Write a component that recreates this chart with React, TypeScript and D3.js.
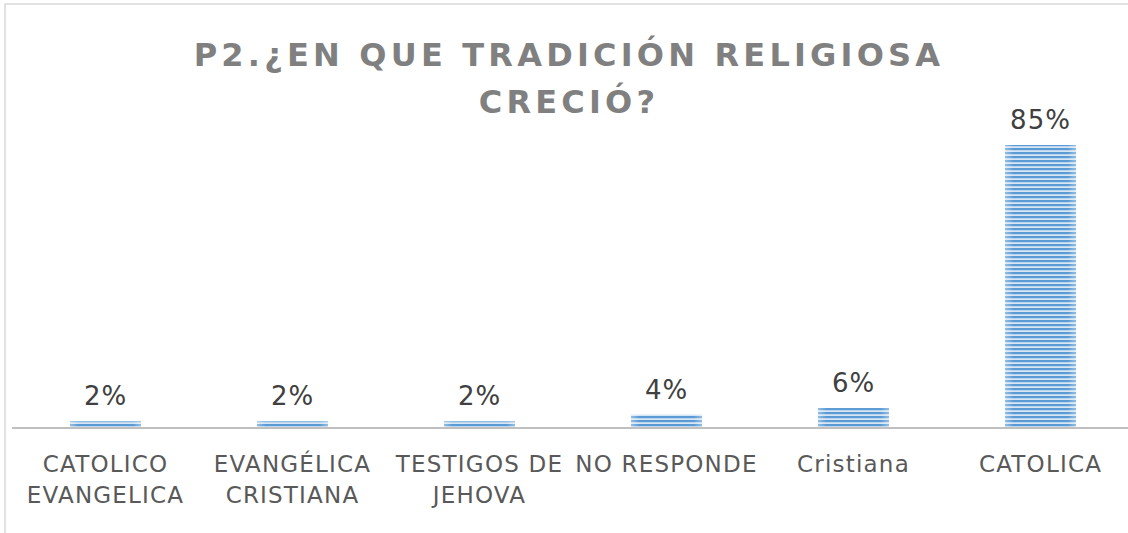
import React from "react";
import * as d3 from "d3";

const categories: string[][] = [
  ["CATOLICO", "EVANGELICA"],
  ["EVANGÉLICA", "CRISTIANA"],
  ["TESTIGOS DE", "JEHOVA"],
  ["NO RESPONDE"],
  ["Cristiana"],
  ["CATOLICA"],
];
const values: number[] = [2, 2, 2, 4, 6, 85];
const valueLabels: string[] = ["2%", "2%", "2%", "4%", "6%", "85%"];
const titleLines: string[] = ["P2.¿EN QUE TRADICIÓN RELIGIOSA", "CRECIÓ?"];

const W = 1128;
const H = 533;

export default function App() {
  const x = d3
    .scaleBand<number>()
    .domain(values.map((_, i) => i))
    .range([12, 12 + 6 * 187])
    .paddingInner(0.62)
    .paddingOuter(0.31);
  const y = d3.scaleLinear().domain([0, 85]).range([428, 145]);
  const font = "'DejaVu Sans', sans-serif";

  return (
    <svg
      width={W}
      height={H}
      style={{ position: "absolute", left: 0, top: 0, background: "#fff" }}
    >
      <defs>
        <pattern id="stripes" width="8" height="4" patternUnits="userSpaceOnUse">
          <rect width="8" height="4" fill="#d6e5f4" />
          <rect width="8" height="2.2" fill="#5b9bd5" />
        </pattern>
        <linearGradient id="edge" x1="0" x2="1" y1="0" y2="0">
          <stop offset="0" stopColor="#fff" stopOpacity="0.35" />
          <stop offset="0.12" stopColor="#fff" stopOpacity="0" />
          <stop offset="0.88" stopColor="#fff" stopOpacity="0" />
          <stop offset="1" stopColor="#fff" stopOpacity="0.35" />
        </linearGradient>
      </defs>
      <rect x={5} y={4} width={W + 10} height={H + 10} fill="none" stroke="#d9d9d9" strokeWidth={1.5} />
      {titleLines.map((t, i) => (
        <text
          key={i}
          x={569}
          y={66 + i * 47}
          textAnchor="middle"
          fontFamily={font}
          fontWeight="bold"
          fontSize={32}
          letterSpacing={4.2}
          fill="#808080"
        >
          {t}
        </text>
      ))}
      {values.map((v, i) => (
        <g key={i}>
          <rect x={x(i)} y={y(v)} width={x.bandwidth()} height={y(0) - y(v)} fill="url(#stripes)" />
          <rect x={x(i)} y={y(v)} width={x.bandwidth()} height={y(0) - y(v)} fill="url(#edge)" />
          <text
            x={(x(i) as number) + x.bandwidth() / 2}
            y={y(v) - 16}
            textAnchor="middle"
            fontFamily={font}
            fontSize={26}
            letterSpacing={1}
            fill="#404040"
          >
            {valueLabels[i]}
          </text>
        </g>
      ))}
      <line x1={12} x2={W} y1={428} y2={428} stroke="#bfbfbf" strokeWidth={2} />
      {categories.map((lines, i) => (
        <text
          key={i}
          x={(x(i) as number) + x.bandwidth() / 2}
          textAnchor="middle"
          fontFamily={font}
          fontSize={23}
          letterSpacing={1.2}
          fill="#595959"
        >
          {lines.map((l, j) => (
            <tspan key={j} x={(x(i) as number) + x.bandwidth() / 2} y={472 + j * 31}>
              {l}
            </tspan>
          ))}
        </text>
      ))}
    </svg>
  );
}
